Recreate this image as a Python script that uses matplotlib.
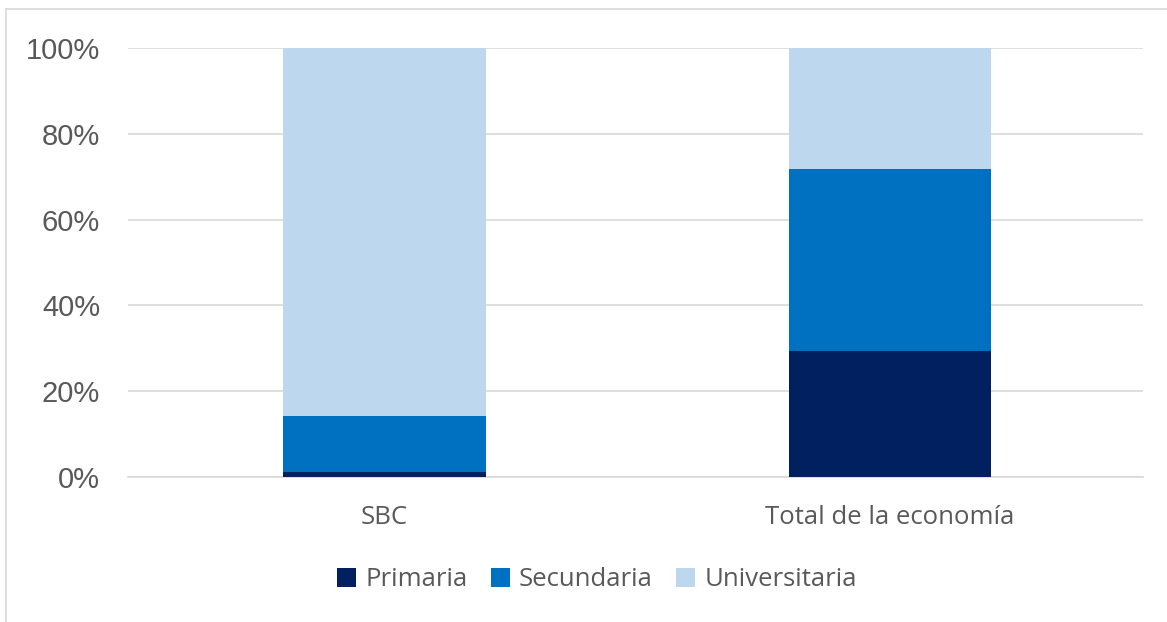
import matplotlib.pyplot as plt
import numpy as np

# data (shares, %)
categories = ['SBC', 'Total de la economía']
primaria = [1.2, 29.4]
secundaria = [13.1, 42.4]
universitaria = [85.7, 28.2]

series_names = ['Primaria', 'Secundaria', 'Universitaria']
colors = ['#002060', '#0070C0', '#BDD7EE']

fig = plt.figure(figsize=(11.67, 6.22), dpi=100)
ax = fig.add_axes([128 / 1167, 1 - 477 / 622, (1143 - 128) / 1167, (477 - 48) / 622])

x = np.arange(len(categories))
bottom = np.zeros(len(categories))
for name, vals, c in zip(series_names, [primaria, secundaria, universitaria], colors):
    ax.bar(x, vals, width=0.4, bottom=bottom, color=c, label=name, zorder=3)
    bottom += np.array(vals)

ax.set_xlim(-0.507, 1.5)
ax.set_ylim(0, 100)
ax.set_yticks(np.arange(0, 101, 20))
ax.set_yticklabels([f'{v}%' for v in range(0, 101, 20)],
                   fontfamily='Liberation Sans', fontsize=21, color='#595959')
ax.set_xticks(x)
ax.set_xticklabels(categories, fontfamily='Open Sans', fontsize=18.5, color='#595959')
ax.tick_params(axis='y', length=0, pad=20)
ax.tick_params(axis='x', length=0, pad=20)
ax.grid(axis='y', color='#D9D9D9', linewidth=1.2, zorder=0)
for s in ['top', 'right', 'left']:
    ax.spines[s].set_visible(False)
ax.spines['bottom'].set_color('#D9D9D9')
ax.spines['bottom'].set_linewidth(1.2)

leg = fig.legend(loc='center', bbox_to_anchor=(597 / 1167, 1 - 580 / 622), ncol=3,
                 frameon=False, handlelength=0.75, handleheight=0.75, handletextpad=0.35,
                 columnspacing=0.9, prop={'family': 'Open Sans', 'size': 18.5})
for t in leg.get_texts():
    t.set_color('#595959')

# outer chart frame (only top and left visible in the reference crop)
fig.add_artist(plt.Line2D([6 / 1167, 6 / 1167], [0, 1 - 9 / 622], color='#D9D9D9', linewidth=1.2))
fig.add_artist(plt.Line2D([6 / 1167, 1], [1 - 9 / 622, 1 - 9 / 622], color='#D9D9D9', linewidth=1.2))

fig.savefig('out.png', dpi=100, facecolor='white')
